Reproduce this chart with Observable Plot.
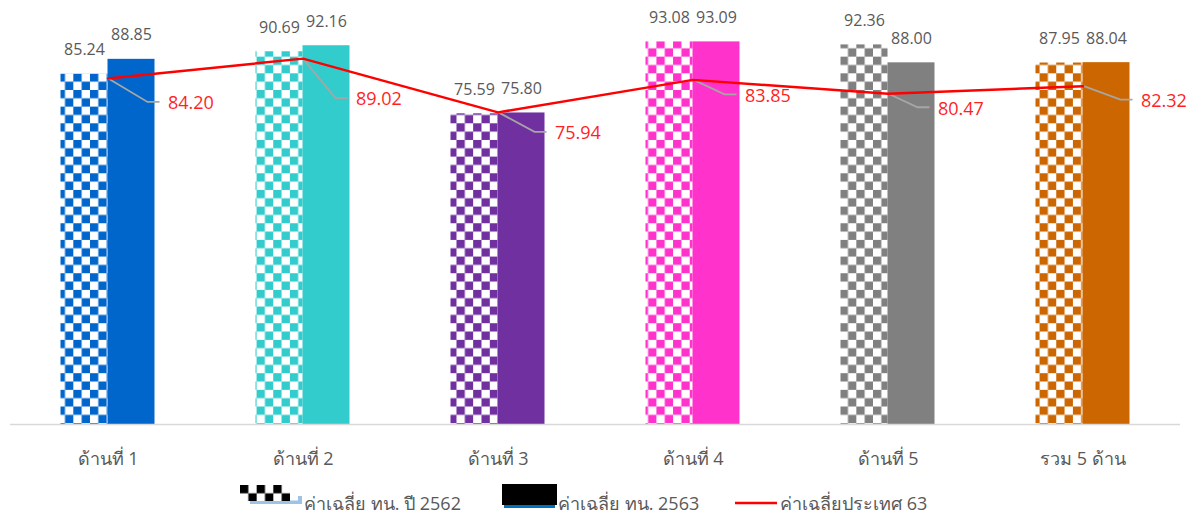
<!DOCTYPE html>
<html>
<head>
<meta charset="utf-8">
<script src="https://cdn.jsdelivr.net/npm/d3@7"></script>
<script src="https://cdn.jsdelivr.net/npm/@observablehq/plot@0.6"></script>
<style>
  body { margin: 0; background: #fff; }
  #wrap { position: relative; width: 1197px; height: 515px; font-family: "Open Sans", "Noto Sans", sans-serif; }
  #chart { position: absolute; left: 0; top: 0; }
  #legend { position: absolute; left: 0; top: 475px; }
</style>
</head>
<body>
<div id="wrap">
  <div id="chart"></div>
  <svg id="legend" width="1197" height="40"></svg>
</div>
<script>
// ---- data ----
const categories = ["ด้านที่ 1", "ด้านที่ 2", "ด้านที่ 3", "ด้านที่ 4", "ด้านที่ 5", "รวม 5 ด้าน"];
const avg2562 = [85.24, 90.69, 75.59, 93.08, 92.36, 87.95];
const avg2563 = [88.85, 92.16, 75.80, 93.09, 88.00, 88.04];
const national63 = [84.20, 89.02, 75.94, 83.85, 80.47, 82.32];
const seriesNames = ["ค่าเฉลี่ย ทน. ปี 2562", "ค่าเฉลี่ย ทน. 2563", "ค่าเฉลี่ยประเทศ 63"];

// ---- styling ----
const categoryColors = ["#0066CC", "#33CCCC", "#7030A0", "#FF33CC", "#808080", "#CC6600"];
const calloutOffsets = [[60, 25], [53, 41], [57, 21], [52, 16], [50, 15], [58, 15]];
const FONT = '"Open Sans", "Noto Sans", sans-serif';
const GRAY_TEXT = "#595959";
const SQ = 8.33;

const rows2562 = categories.map((c, i) => ({cat: c, v: avg2562[i], i}));
const rows2563 = categories.map((c, i) => ({cat: c, v: avg2563[i], i}));
const rowsNat = categories.map((c, i) => ({cat: c, v: national63[i], i}));

const BAND = (1197 - 10 - 17) / categories.length;
const BAR_W = 47;

function checkerPattern(sel, id, color, ox, oy) {
  const p = sel.append("pattern").attr("id", id).attr("patternUnits", "userSpaceOnUse")
    .attr("x", ox).attr("y", oy).attr("width", 2 * SQ).attr("height", 2 * SQ);
  p.append("rect").attr("width", 2 * SQ).attr("height", 2 * SQ).attr("fill", "#fff");
  p.append("rect").attr("width", SQ).attr("height", SQ).attr("fill", color);
  p.append("rect").attr("x", SQ).attr("y", SQ).attr("width", SQ).attr("height", SQ).attr("fill", color);
}

function defsMark() {
  const defs = d3.create("svg:defs");
  categoryColors.forEach((c, i) => checkerPattern(defs, "chk" + i, c, 6.67, 6.67));
  return defs.node();
}

function leadersMark(index, scales) {
  const g = d3.create("svg:g");
  const bw = scales.x.bandwidth ? scales.x.bandwidth() : 0;
  national63.forEach((v, i) => {
    const px = scales.x(categories[i]) + bw / 2, py = scales.y(v);
    const [dx, dy] = calloutOffsets[i];
    g.append("polyline")
      .attr("points", [[px, py], [px + dx - 20, py + dy - 1], [px + dx - 8, py + dy - 1]].map(p => p.join(",")).join(" "))
      .attr("fill", "none").attr("stroke", "#A6A6A6").attr("stroke-width", 1.8);
  });
  return g.node();
}

const chart = Plot.plot({
  width: 1197,
  height: 475,
  marginLeft: 10,
  marginRight: 17,
  marginTop: 13,
  marginBottom: 51,
  style: {fontFamily: FONT, background: "#fff", overflow: "visible"},
  x: {type: "band", domain: categories, padding: 0, axis: null},
  y: {domain: [0, 100], axis: null},
  color: {type: "identity"},
  marks: [
    defsMark,
    Plot.barY(rows2562, {x: "cat", y: "v", fill: d => `url(#chk${d.i})`, insetLeft: BAND / 2 - BAR_W, insetRight: BAND / 2}),
    Plot.barY(rows2563, {x: "cat", y: "v", fill: d => categoryColors[d.i], insetLeft: BAND / 2, insetRight: BAND / 2 - BAR_W}),
    Plot.ruleY([0], {stroke: "#D9D9D9", strokeWidth: 1.5}),
    Plot.axisX({tickSize: 0, tickPadding: 28, fontSize: 18, fill: GRAY_TEXT, label: null}),
    leadersMark,
    Plot.line(rowsNat, {x: "cat", y: "v", stroke: "#FF0000", strokeWidth: 2.5}),
    Plot.text(rows2562, {x: "cat", y: "v", text: d => d.v.toFixed(2), dx: -BAR_W / 2, dy: -24, fontSize: 16, fill: GRAY_TEXT}),
    Plot.text(rows2563, {x: "cat", y: "v", text: d => d.v.toFixed(2), dx: BAR_W / 2, dy: -24, fontSize: 16, fill: GRAY_TEXT}),
    ...rowsNat.map((d, i) => Plot.text([d], {
      x: "cat", y: "v", text: r => r.v.toFixed(2),
      dx: calloutOffsets[i][0], dy: calloutOffsets[i][1],
      textAnchor: "start", fontSize: 18, fill: "#FF1F1F"
    }))
  ]
});
document.getElementById("chart").appendChild(chart);

// ---- legend ----
const lg = d3.select("#legend");
const ldefs = lg.append("defs");
checkerPattern(ldefs, "chkL", "#000", 240, 10);
lg.append("rect").attr("x", 250).attr("y", 25.5).attr("width", 52).attr("height", 3.5).attr("fill", "#9DC3E6");
lg.append("rect").attr("x", 298).attr("y", 21).attr("width", 4).attr("height", 8).attr("fill", "#9DC3E6");
lg.append("rect").attr("x", 240).attr("y", 10).attr("width", 50).attr("height", 16).attr("fill", "url(#chkL)");
lg.append("rect").attr("x", 502).attr("y", 9).attr("width", 55).attr("height", 21).attr("fill", "#000");
lg.append("rect").attr("x", 504).attr("y", 30).attr("width", 51).attr("height", 3).attr("fill", "#0070C0");
lg.append("line").attr("x1", 735).attr("x2", 777).attr("y1", 28).attr("y2", 28).attr("stroke", "#FF0000").attr("stroke-width", 2.5);
[[304, seriesNames[0]], [558, seriesNames[1]], [780, seriesNames[2]]].forEach(([x, t]) => {
  lg.append("text").attr("x", x).attr("y", 35).attr("font-size", 18).attr("font-family", FONT)
    .attr("fill", GRAY_TEXT).text(t);
});
</script>
</body>
</html>
